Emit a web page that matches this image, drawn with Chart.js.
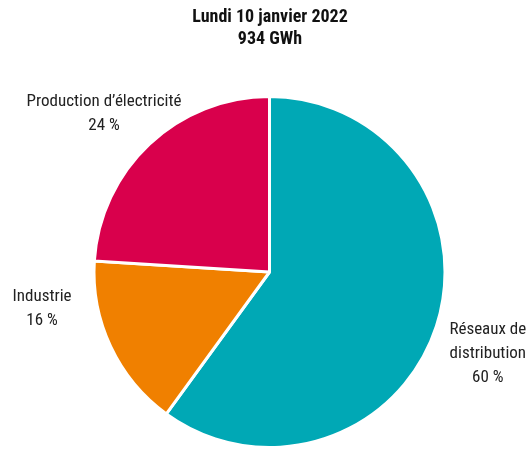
<!DOCTYPE html>
<html>
<head>
<meta charset="utf-8">
<script src="https://cdn.jsdelivr.net/npm/chart.js@4"></script>
<style>
  html, body { margin: 0; padding: 0; background: #fff; }
  canvas { display: block; }
</style>
</head>
<body>
<canvas id="consoChart" width="526" height="449"></canvas>
<script>
// consumption split for the day
const titleLines = ['Lundi 10 janvier 2022', '934 GWh'];
const sectors = ['Réseaux de distribution', 'Industrie', "Production d’électricité"];
const sectorLines = [['Réseaux de', 'distribution'], ['Industrie'], ["Production d’électricité"]];
const shares = [60, 16, 24];
const sectorColors = ['#00a8b5', '#f08000', '#d9004c'];

const FONT = '"Liberation Sans Narrow", "Roboto Condensed", "DejaVu Sans Condensed", sans-serif';

// where each label block sits, relative to the pie centre, in radius units
const labelSpots = [[1.244, 0.468], [-1.296, 0.207], [-0.943, -0.899]];

const titlePlugin = {
    id: 'titleText',
    afterDraw(chart) {
        const ctx = chart.ctx;
        ctx.save();
        ctx.fillStyle = '#111';
        ctx.font = 'bold 18px ' + FONT;
        ctx.textAlign = 'center';
        ctx.textBaseline = 'middle';
        titleLines.forEach((line, i) => {
            ctx.fillText(line, 270, 17 + i * 22);
        });
        ctx.restore();
    }
};

const sliceLabels = {
    id: 'sliceLabels',
    afterDraw(chart) {
        const ctx = chart.ctx;
        const arcs = chart.getDatasetMeta(0).data;
        ctx.save();
        ctx.fillStyle = '#222';
        ctx.font = '17px ' + FONT;
        ctx.textAlign = 'center';
        ctx.textBaseline = 'middle';
        arcs.forEach((arc, i) => {
            const r = arc.outerRadius;
            const cx = arc.x + labelSpots[i][0] * r;
            const cy = arc.y + labelSpots[i][1] * r;
            const lines = sectorLines[i].concat([shares[i] + ' %']);
            lines.forEach((line, j) => {
                ctx.fillText(line, cx, cy + (j - (lines.length - 1) / 2) * 24);
            });
        });
        ctx.restore();
    }
};

new Chart(document.getElementById('consoChart'), {
    type: 'pie',
    data: {
        labels: sectors,
        datasets: [{
            data: shares,
            backgroundColor: sectorColors,
            borderColor: '#fff',
            borderWidth: 3
        }]
    },
    options: {
        responsive: false,
        animation: false,
        layout: {
            padding: { top: 95, bottom: 0, left: 80, right: 67 }
        },
        plugins: {
            legend: { display: false },
            tooltip: { enabled: false }
        }
    },
    plugins: [titlePlugin, sliceLabels]
});
</script>
</body>
</html>
